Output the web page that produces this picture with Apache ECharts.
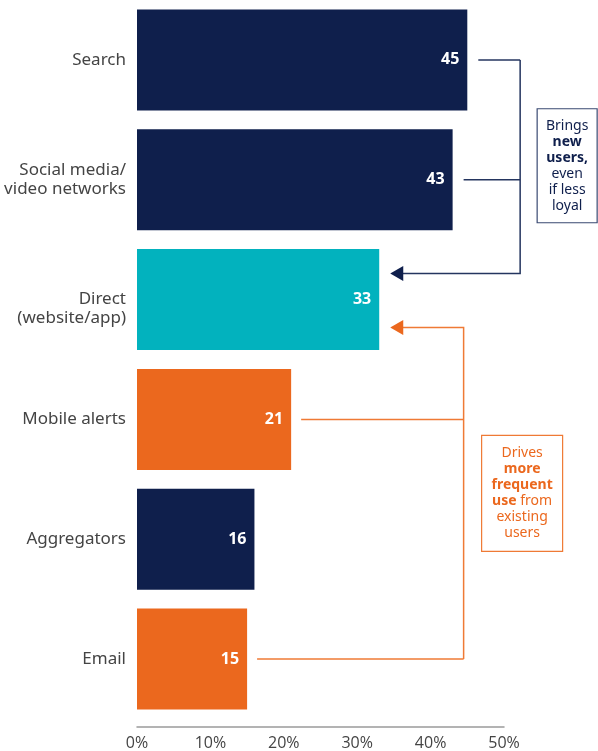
<!DOCTYPE html>
<html><head><meta charset="utf-8">
<script src="https://cdn.jsdelivr.net/npm/echarts@6/dist/echarts.min.js"></script>
<style>html,body{margin:0;padding:0;background:#fff}#c{width:598px;height:751px}</style>
</head><body><div id="c"></div>
<script>
// ---- data ----
const categories = ['Search', 'Social media/\nvideo networks', 'Direct\n(website/app)', 'Mobile alerts', 'Aggregators', 'Email'];
const values = [45, 43, 33, 21, 16, 15];
const groups = ['new', 'new', 'direct', 'frequent', 'new', 'frequent'];
const xTickValues = [0, 10, 20, 30, 40, 50];
const newUsersSources = ['Search', 'Social media/\nvideo networks'];
const frequentSources = ['Mobile alerts', 'Email'];
const target = 'Direct\n(website/app)';
const newUsersNote = ['Brings', '{b|new}', '{b|users,}', 'even', 'if less', 'loyal'];
const frequentNote = ['Drives', '{b|more}', '{b|frequent}', '{b|use} from', 'existing', 'users'];
const newBracketX = 52.2; // bracket position in axis units

// ---- styles ----
const NAVY = '#0f1f4c', TEAL = '#02b2be', ORANGE = '#eb681e';
const groupColor = { new: NAVY, direct: TEAL, frequent: ORANGE };
const ORANGE_LINE = '#ef7a35', NAVY_LINE = '#24355f';

const chart = echarts.init(document.getElementById('c'));
chart.setOption({
  animation: false,
  grid: { left: 137, right: 94, top: 0, bottom: 31, containLabel: false },
  xAxis: {
    type: 'value', min: xTickValues[0], max: xTickValues[xTickValues.length - 1], interval: 10,
    offset: 8,
    axisLine: { show: true, lineStyle: { color: '#9a9a9a', width: 1.5 } },
    axisTick: { show: false }, splitLine: { show: false },
    axisLabel: { formatter: '{value}%', color: '#444', fontSize: 16, fontFamily: 'Open Sans', margin: 8 }
  },
  yAxis: {
    type: 'category', inverse: true, data: categories,
    axisLine: { show: false }, axisTick: { show: false },
    axisLabel: {
      color: '#444', fontSize: 17, fontFamily: 'Noto Sans', lineHeight: 19, margin: 11, align: 'right',
      formatter: v => v === target ? '\n' + v : v
    }
  },
  series: [{
    type: 'bar', barWidth: 101,
    data: values.map((v, i) => ({ value: v, itemStyle: { color: groupColor[groups[i]] } })),
    label: { show: true, position: 'insideRight', distance: 8, color: '#fff', fontSize: 16, fontWeight: 'bold', fontFamily: 'Open Sans' }
  }]
});

function px(x, cat) { return chart.convertToPixel({ xAxisIndex: 0, yAxisIndex: 0 }, [x, cat]); }
const gap = 11;
const band = px(0, categories[1])[1] - px(0, categories[0])[1];
const tVal = values[categories.indexOf(target)];
const tPt = px(tVal, target);
const tipX = tPt[0] + gap;
const blueY = tPt[1] - 0.217 * band;
const orangeY = tPt[1] + 0.233 * band;
const blueVX = px(newBracketX, target)[0];
const orangeVX = px(values[1], target)[0] + gap;
const elems = [];
function arrow(y, color) {
  return { type: 'polygon', shape: { points: [[tipX, y], [tipX + 13, y - 7.5], [tipX + 13, y + 7.5]] }, style: { fill: color } };
}
// blue bracket
let blueTop = Infinity;
newUsersSources.forEach(c => {
  const p = px(values[categories.indexOf(c)], c);
  blueTop = Math.min(blueTop, p[1]);
  elems.push({ type: 'line', shape: { x1: p[0] + gap, y1: p[1], x2: blueVX, y2: p[1] }, style: { stroke: NAVY_LINE, lineWidth: 1.5 } });
});
elems.push({ type: 'polyline', shape: { points: [[blueVX, blueTop], [blueVX, blueY], [tipX + 10, blueY]] }, style: { stroke: NAVY_LINE, lineWidth: 1.5, fill: null } });
elems.push(arrow(blueY, NAVY));
// orange bracket
let orangeBottom = -Infinity;
frequentSources.forEach(c => {
  const p = px(values[categories.indexOf(c)], c);
  orangeBottom = Math.max(orangeBottom, p[1]);
  elems.push({ type: 'line', shape: { x1: p[0] + gap - 1, y1: p[1], x2: orangeVX, y2: p[1] }, style: { stroke: ORANGE_LINE, lineWidth: 1.5 } });
});
elems.push({ type: 'polyline', shape: { points: [[orangeVX, orangeBottom], [orangeVX, orangeY], [tipX + 10, orangeY]] }, style: { stroke: ORANGE_LINE, lineWidth: 1.5, fill: null } });
elems.push(arrow(orangeY, ORANGE));

// note boxes
function note(lines, x, y, w, h, color, fill) {
  elems.push({ type: 'rect', shape: { x: x, y: y, width: w, height: h }, style: { fill: '#fff', stroke: color, lineWidth: 1.2 } });
  elems.push({ type: 'text', x: x + w / 2, y: y + h / 2, style: {
    text: lines.join('\n'), fill: fill, fontSize: 14, fontFamily: 'Noto Sans', lineHeight: 16,
    align: 'center', verticalAlign: 'middle', textAlign: 'center', textVerticalAlign: 'middle',
    rich: { b: { fontWeight: 'bold', fill: fill, fontSize: 14, fontFamily: 'Noto Sans', lineHeight: 16 } }
  } });
}
const socialY = px(0, categories[1])[1];
note(newUsersNote, blueVX + 17, socialY - 71, 60, 114, '#3a4a72', NAVY);
const mobileY = px(0, categories[3])[1];
note(frequentNote, orangeVX + 18, mobileY + 16, 81, 116, ORANGE_LINE, ORANGE);

chart.setOption({ graphic: { elements: elems } });
</script>
</body></html>
